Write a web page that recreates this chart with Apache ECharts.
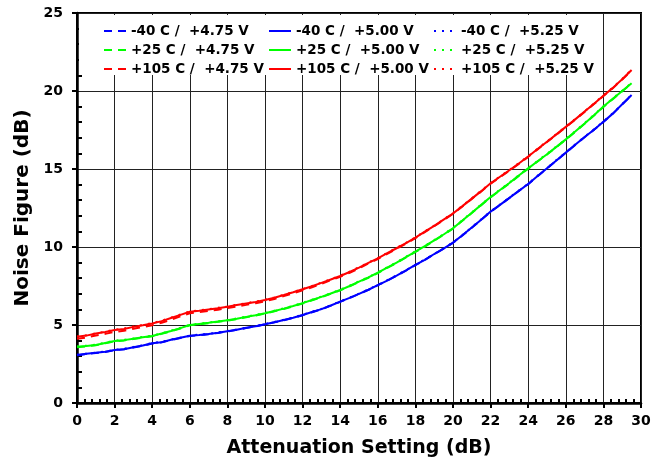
<!DOCTYPE html>
<html>
<head>
<meta charset="utf-8">
<script src="https://cdn.jsdelivr.net/npm/echarts@6/dist/echarts.min.js"></script>
<style>
  html, body { margin: 0; padding: 0; background: #fff; }
  #chart { width: 655px; height: 463px; }
</style>
</head>
<body>
<div id="chart"></div>
<script>
// attenuation setting (dB), one sample every 0.5 dB
var atten = [0, 0.5, 1, 1.5, 2, 2.5, 3, 3.5, 4, 4.5, 5, 5.5, 6, 6.5, 7, 7.5, 8, 8.5, 9, 9.5,
  10, 10.5, 11, 11.5, 12, 12.5, 13, 13.5, 14, 14.5, 15, 15.5, 16, 16.5, 17, 17.5, 18, 18.5, 19, 19.5,
  20, 20.5, 21, 21.5, 22, 22.5, 23, 23.5, 24, 24.5, 25, 25.5, 26, 26.5, 27, 27.5, 28, 28.5, 29, 29.5];

// noise figure (dB)
var nfM40_475 = [3.06, 3.14, 3.20, 3.27, 3.38, 3.44, 3.56, 3.67, 3.81, 3.89, 4.03, 4.17, 4.29, 4.35, 4.41, 4.49, 4.59, 4.69, 4.80, 4.91,
  5.04, 5.17, 5.31, 5.45, 5.63, 5.82, 6.01, 6.24, 6.49, 6.73, 6.99, 7.25, 7.55, 7.84, 8.16, 8.49, 8.84, 9.17, 9.54, 9.89,
  10.27, 10.74, 11.24, 11.74, 12.26, 12.69, 13.14, 13.59, 14.03, 14.54, 15.04, 15.54, 16.04, 16.54, 17.04, 17.51, 18.02, 18.54, 19.14, 19.73];
var nfM40_500 = [3.08, 3.15, 3.22, 3.28, 3.40, 3.45, 3.58, 3.68, 3.83, 3.90, 4.05, 4.18, 4.31, 4.36, 4.42, 4.50, 4.60, 4.70, 4.82, 4.92,
  5.05, 5.18, 5.32, 5.46, 5.64, 5.83, 6.02, 6.25, 6.50, 6.74, 7.00, 7.26, 7.56, 7.85, 8.17, 8.50, 8.85, 9.18, 9.55, 9.90,
  10.28, 10.75, 11.25, 11.75, 12.27, 12.70, 13.15, 13.60, 14.04, 14.55, 15.05, 15.55, 16.05, 16.55, 17.05, 17.52, 18.03, 18.55, 19.15, 19.74];
var nfM40_525 = [3.10, 3.16, 3.23, 3.30, 3.41, 3.47, 3.59, 3.70, 3.84, 3.92, 4.06, 4.19, 4.32, 4.38, 4.43, 4.52, 4.61, 4.72, 4.83, 4.94,
  5.06, 5.20, 5.33, 5.48, 5.65, 5.85, 6.03, 6.27, 6.51, 6.76, 7.01, 7.28, 7.57, 7.87, 8.18, 8.52, 8.86, 9.20, 9.56, 9.92,
  10.29, 10.77, 11.26, 11.77, 12.28, 12.72, 13.16, 13.62, 14.05, 14.57, 15.06, 15.57, 16.06, 16.57, 17.06, 17.54, 18.04, 18.57, 19.16, 19.76];

var nf25_475 = [3.58, 3.63, 3.70, 3.83, 3.95, 4.01, 4.10, 4.20, 4.28, 4.43, 4.60, 4.78, 4.98, 5.05, 5.12, 5.20, 5.28, 5.38, 5.50, 5.61,
  5.73, 5.88, 6.03, 6.20, 6.38, 6.58, 6.78, 7.00, 7.22, 7.48, 7.76, 8.03, 8.33, 8.66, 8.98, 9.33, 9.68, 10.03, 10.40, 10.78,
  11.18, 11.68, 12.18, 12.68, 13.18, 13.63, 14.08, 14.56, 15.02, 15.48, 15.93, 16.40, 16.88, 17.38, 17.90, 18.43, 18.98, 19.48, 19.98, 20.48];
var nf25_500 = [3.60, 3.65, 3.72, 3.85, 3.97, 4.03, 4.12, 4.22, 4.30, 4.45, 4.62, 4.80, 5.00, 5.07, 5.14, 5.22, 5.30, 5.40, 5.52, 5.63,
  5.75, 5.90, 6.05, 6.22, 6.40, 6.60, 6.80, 7.02, 7.24, 7.50, 7.78, 8.05, 8.35, 8.68, 9.00, 9.35, 9.70, 10.05, 10.42, 10.80,
  11.20, 11.70, 12.20, 12.70, 13.20, 13.65, 14.10, 14.58, 15.04, 15.50, 15.95, 16.42, 16.90, 17.40, 17.92, 18.45, 19.00, 19.50, 20.00, 20.50];
var nf25_525 = [3.62, 3.67, 3.74, 3.87, 3.99, 4.05, 4.14, 4.24, 4.32, 4.47, 4.64, 4.82, 5.02, 5.09, 5.16, 5.24, 5.32, 5.42, 5.54, 5.65,
  5.77, 5.92, 6.07, 6.24, 6.42, 6.62, 6.82, 7.04, 7.26, 7.52, 7.80, 8.07, 8.37, 8.70, 9.02, 9.37, 9.72, 10.07, 10.44, 10.82,
  11.22, 11.72, 12.22, 12.72, 13.22, 13.67, 14.12, 14.60, 15.06, 15.52, 15.97, 16.44, 16.92, 17.42, 17.94, 18.47, 19.02, 19.52, 20.02, 20.52];

var nf105_475 = [4.12, 4.20, 4.33, 4.43, 4.56, 4.63, 4.76, 4.87, 4.99, 5.14, 5.34, 5.55, 5.75, 5.82, 5.90, 5.98, 6.08, 6.19, 6.29, 6.40,
  6.52, 6.67, 6.85, 7.03, 7.22, 7.42, 7.64, 7.87, 8.09, 8.35, 8.63, 8.94, 9.23, 9.56, 9.89, 10.22, 10.57, 10.95, 11.33, 11.73,
  12.13, 12.60, 13.08, 13.56, 14.06, 14.48, 14.90, 15.33, 15.78, 16.26, 16.73, 17.20, 17.68, 18.16, 18.66, 19.16, 19.68, 20.18, 20.73, 21.33];
var nf105_500 = [4.25, 4.32, 4.45, 4.55, 4.68, 4.75, 4.88, 4.98, 5.10, 5.25, 5.45, 5.65, 5.85, 5.92, 6.00, 6.08, 6.17, 6.28, 6.38, 6.48,
  6.60, 6.75, 6.92, 7.10, 7.29, 7.48, 7.70, 7.92, 8.14, 8.40, 8.68, 8.98, 9.27, 9.60, 9.92, 10.25, 10.60, 10.98, 11.35, 11.75,
  12.15, 12.62, 13.10, 13.58, 14.08, 14.50, 14.92, 15.35, 15.80, 16.28, 16.75, 17.22, 17.70, 18.18, 18.68, 19.18, 19.70, 20.20, 20.75, 21.35];
var nf105_525 = [4.27, 4.34, 4.47, 4.57, 4.70, 4.77, 4.90, 5.00, 5.12, 5.27, 5.47, 5.67, 5.87, 5.94, 6.02, 6.10, 6.19, 6.30, 6.40, 6.50,
  6.62, 6.77, 6.94, 7.12, 7.31, 7.50, 7.72, 7.94, 8.16, 8.42, 8.70, 9.00, 9.29, 9.62, 9.94, 10.27, 10.62, 11.00, 11.37, 11.77,
  12.17, 12.64, 13.12, 13.60, 14.10, 14.52, 14.94, 15.37, 15.82, 16.30, 16.77, 17.24, 17.72, 18.20, 18.70, 19.20, 19.72, 20.22, 20.77, 21.37];

var names475 = ['-40 C /  +4.75 V', '+25 C /  +4.75 V', '+105 C /  +4.75 V'];
var names500 = ['-40 C /  +5.00 V', '+25 C /  +5.00 V', '+105 C /  +5.00 V'];
var names525 = ['-40 C /  +5.25 V', '+25 C /  +5.25 V', '+105 C /  +5.25 V'];

var FONT = 'DejaVu Sans';
var DASHED = [8, 6];
var DOTTED = [2, 6];

function pairs(ys) {
  return atten.map(function (x, i) { return [x, ys[i]]; });
}

function curve(name, ys, color, type) {
  return {
    name: name,
    type: 'line',
    data: pairs(ys),
    symbol: 'none',
    animation: false,
    lineStyle: { color: color, width: 2, type: type },
    itemStyle: { color: color }
  };
}

function legendCol(names, left) {
  return {
    data: names,
    orient: 'vertical',
    left: left,
    top: 24,
    padding: 0,
    itemGap: 5,
    itemWidth: 22,
    itemHeight: 13,
    // hide the symbol, keep the line sample
    itemStyle: { color: 'rgba(0,0,0,0)', borderWidth: 0 },
    textStyle: { color: '#000', fontFamily: FONT, fontWeight: 'bold', fontSize: 13.5 }
  };
}

var chart = echarts.init(document.getElementById('chart'));

chart.setOption({
  animation: false,
  backgroundColor: '#fff',
  grid: {
    left: 77, right: 14, top: 13, bottom: 60,
    show: true, borderColor: '#000', borderWidth: 2
  },
  graphic: [{
    type: 'rect', left: 79, top: 15, z: 1,
    shape: { width: 520, height: 60 },
    style: { fill: '#fff' }
  }],
  legend: [legendCol(names475, 103), legendCol(names500, 268), legendCol(names525, 433)],
  xAxis: {
    type: 'value', min: 0, max: 30, interval: 2,
    name: 'Attenuation Setting (dB)', nameLocation: 'middle', nameGap: 36,
    nameTextStyle: { fontFamily: FONT, fontWeight: 'bold', fontSize: 19, color: '#000' },
    axisLine: { lineStyle: { color: '#000', width: 2.5 } },
    axisTick: { length: 5, lineStyle: { color: '#000', width: 2 } },
    minorTick: { show: true, splitNumber: 5, length: -4, lineStyle: { color: '#000', width: 2 } },
    splitLine: { show: true, lineStyle: { color: '#222', width: 1 } },
    axisLabel: { margin: 11, fontFamily: FONT, fontWeight: 'bold', fontSize: 14, color: '#000' }
  },
  yAxis: {
    type: 'value', min: 0, max: 25, interval: 5,
    name: 'Noise Figure (dB)', nameLocation: 'middle', nameGap: 44,
    nameTextStyle: { fontFamily: FONT, fontWeight: 'bold', fontSize: 20, color: '#000' },
    axisLine: { show: true, lineStyle: { color: '#000', width: 2.5 } },
    axisTick: { show: true, length: 5, lineStyle: { color: '#000', width: 2 } },
    minorTick: { show: true, splitNumber: 5, length: -5, lineStyle: { color: '#000', width: 2 } },
    splitLine: { show: true, lineStyle: { color: '#222', width: 1 } },
    axisLabel: { margin: 14, fontFamily: FONT, fontWeight: 'bold', fontSize: 14, color: '#000' }
  },
  series: [
    curve(names475[0], nfM40_475, '#0000ff', DASHED),
    curve(names475[1], nf25_475, '#00ff00', DASHED),
    curve(names475[2], nf105_475, '#ff0000', DASHED),
    curve(names500[0], nfM40_500, '#0000ff', 'solid'),
    curve(names500[1], nf25_500, '#00ff00', 'solid'),
    curve(names500[2], nf105_500, '#ff0000', 'solid'),
    curve(names525[0], nfM40_525, '#0000ff', DOTTED),
    curve(names525[1], nf25_525, '#00ff00', DOTTED),
    curve(names525[2], nf105_525, '#ff0000', DOTTED)
  ]
});
</script>
</body>
</html>
